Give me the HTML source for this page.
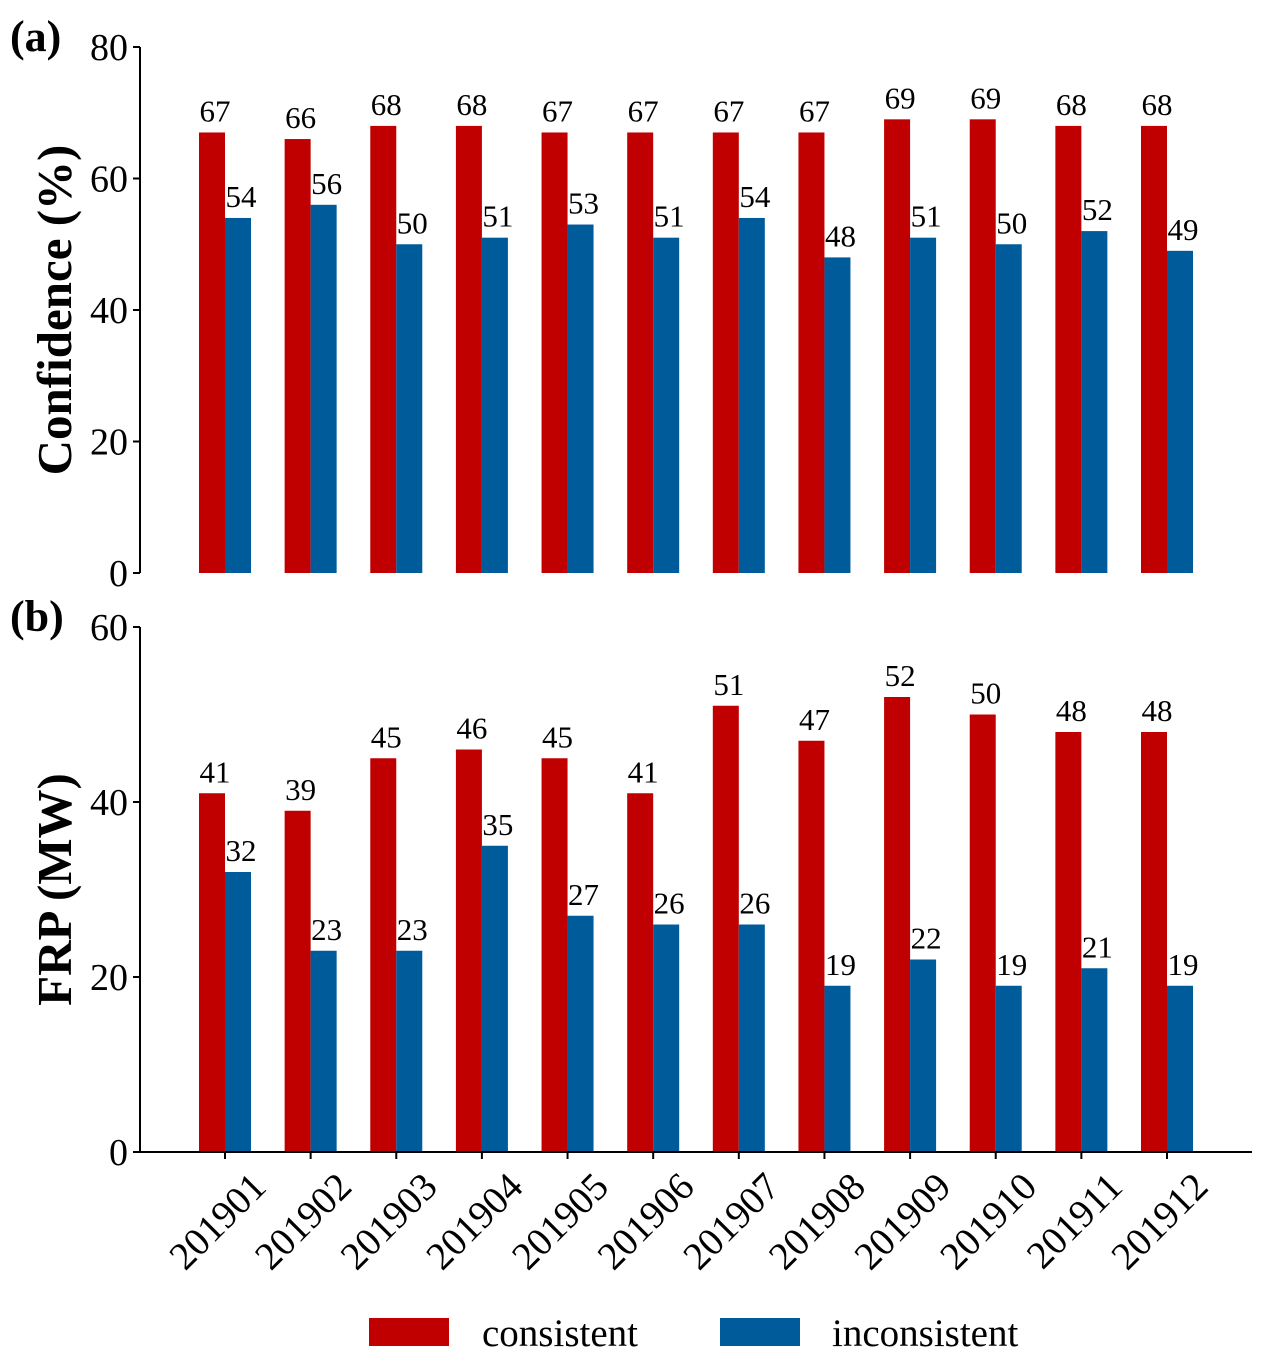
<!DOCTYPE html>
<html><head><meta charset="utf-8"><style>
body{margin:0;background:#fff}
svg text{font-family:"Liberation Serif",serif}
</style></head><body>
<svg id="c" width="1266" height="1360" xmlns="http://www.w3.org/2000/svg"></svg>
<script>
const categories=["201901","201902","201903","201904","201905","201906","201907","201908","201909","201910","201911","201912"];
const confConsistent=[67,66,68,68,67,67,67,67,69,69,68,68];
const confInconsistent=[54,56,50,51,53,51,54,48,51,50,52,49];
const frpConsistent=[41,39,45,46,45,41,51,47,52,50,48,48];
const frpInconsistent=[32,23,23,35,27,26,26,19,22,19,21,19];
const confTicks=[0,20,40,60,80];
const frpTicks=[0,20,40,60];
const NS="http://www.w3.org/2000/svg";
const svg=document.getElementById('c');
function mk(t,a,p){const e=document.createElementNS(NS,t);for(const k in a)e.setAttribute(k,a[k]);(p||svg).appendChild(e);return e;}
const x0=225,dx=(1167-225)/11,bw=26;
function xc(i){return x0+i*dx;}
function panel(name,y0,y1,max,ticks,s1,s2,ylabel,letter,bottomAxis){
  const g=mk('g',{});
  
  
  const y=v=>y0-(v/max)*(y0-y1);
  const ax=mk('line',{x1:140,y1:y1,x2:140,y2:y0,stroke:'#000','stroke-width':2},g);
  
  ticks.forEach(t=>{
    mk('line',{x1:133,x2:140,y1:y(t),y2:y(t),stroke:'#000','stroke-width':2},g);
    const tl=mk('text',{x:128,y:y(t)+13,'text-anchor':'end','font-size':38},g);tl.textContent=t;
    
  });
  const yl=mk('text',{transform:`translate(71,${(y0+y1)/2}) rotate(-90)`,'text-anchor':'middle','font-size':49,'font-weight':'bold'},g);
  yl.textContent=ylabel;
  const lt=mk('text',{x:10,y:y1+4,'font-size':44,'font-weight':'bold'},g);lt.textContent=letter;
  
  categories.forEach((c,i)=>{
    [[s1[i],'#c00000',-bw],[s2[i],'#005b9a',0]].forEach(([v,col,off])=>{
      const r=mk('rect',{x:xc(i)+off,y:y(v),width:bw,height:y0-y(v),fill:col},g);
      
      
      const t=mk('text',{x:xc(i)+off+bw/2+3,y:y(v)-11,'text-anchor':'middle','font-size':31},g);t.textContent=v;
      
    });
    if(bottomAxis){
      mk('line',{x1:xc(i),x2:xc(i),y1:y0,y2:y0+7,stroke:'#000','stroke-width':2},g);
      const xl=mk('text',{transform:`translate(${xc(i)+43},${y0+37}) rotate(-45)`,'text-anchor':'end','font-size':39},g);
      xl.textContent=c;
    }
  });
  if(bottomAxis){const b=mk('line',{x1:140,x2:1252,y1:y0,y2:y0,stroke:'#000','stroke-width':2},g);
    }
}
panel('panel-confidence',573,47,80,confTicks,confConsistent,confInconsistent,'Confidence (%)','(a)',false);
panel('panel-frp',1152,627,60,frpTicks,frpConsistent,frpInconsistent,'FRP (MW)','(b)',true);
const lg=mk('g',{});
[['consistent','#c00000',369,482],['inconsistent','#005b9a',720,832]].forEach(([n,col,rx,tx])=>{
  const r=mk('rect',{x:rx,y:1318,width:80,height:28,fill:col},lg);
  
  const t=mk('text',{x:tx,y:1346,'font-size':39},lg);t.textContent=n;
  
});
</script>
</body></html>
